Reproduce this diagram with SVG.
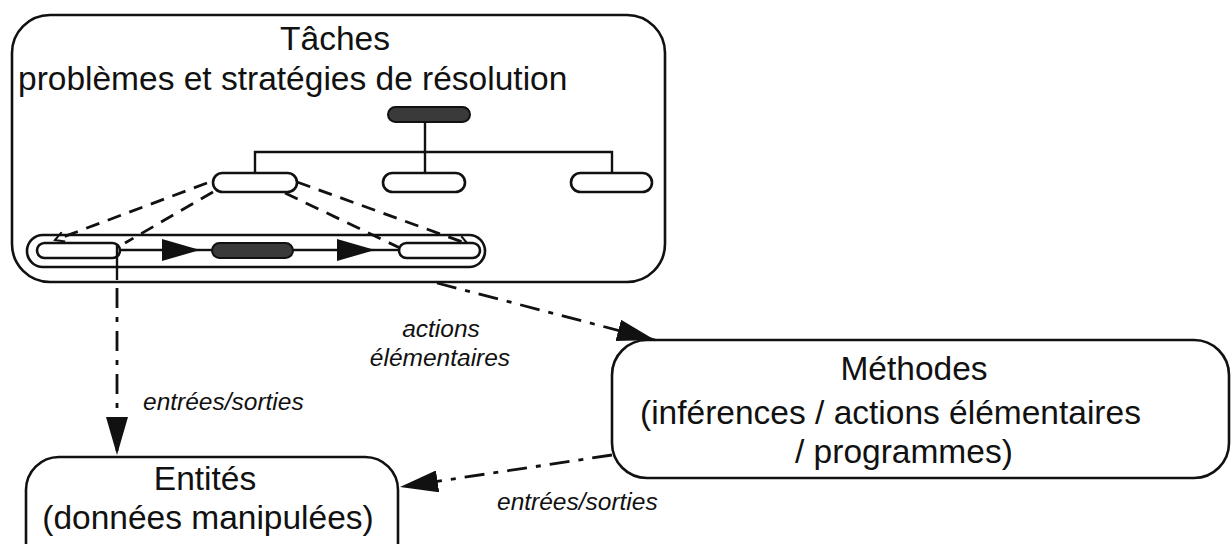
<svg xmlns="http://www.w3.org/2000/svg" width="1231" height="544" viewBox="0 0 1231 544">
<style>
.box{fill:#fff;stroke:#111;stroke-width:2.6}
.pill{fill:#fff;stroke:#111;stroke-width:2.6}
.dark{fill:#3a3a3a;stroke:#111;stroke-width:2}
.ln{fill:none;stroke:#111;stroke-width:2.4}
.dash{fill:none;stroke:#111;stroke-width:2.8;stroke-dasharray:14 9}
.dd{fill:none;stroke:#111;stroke-width:2.8;stroke-dasharray:20 9 5 9}
.t{font-family:"Liberation Sans",Arial,sans-serif;font-size:33.5px;fill:#111}
.i{font-family:"Liberation Sans",Arial,sans-serif;font-size:24.5px;font-style:italic;fill:#111}
</style>
<defs>
<marker id="big" markerWidth="40" markerHeight="22" refX="38" refY="11" orient="auto" markerUnits="userSpaceOnUse">
<path d="M0,0 L38,11 L0,22 Z" fill="#111"/>
</marker>
<marker id="small" markerWidth="12" markerHeight="12" refX="10" refY="6" orient="auto" markerUnits="userSpaceOnUse">
<path d="M1,1 L10,6 L1,11" fill="none" stroke="#111" stroke-width="2"/>
</marker>
</defs>

<g id="taches">
<rect class="box" x="12" y="15" width="653" height="267" rx="38" ry="38"/>
<text class="t" x="335" y="50" text-anchor="middle">Tâches</text>
<text class="t" x="18" y="90">problèmes et stratégies de résolution</text>
</g>

<g id="tree-lines">
<path class="ln" d="M425,122 V173 M255,173 V152 H612 V173"/>
</g>

<g id="decomposition">
<path class="dash" d="M207,183 L55,240" marker-end="url(#small)"/>
<path class="dash" d="M213,192 L125,243"/>
<path class="dash" d="M297,182 L468,244" marker-end="url(#small)"/>
<path class="dash" d="M285,193 L400,248"/>
</g>

<g id="task-root"><rect class="dark" x="388" y="107" width="82" height="15" rx="7.5"/></g>
<g id="task-a"><rect class="pill" x="213" y="173" width="84" height="19" rx="9.5"/></g>
<g id="task-b"><rect class="pill" x="383" y="173" width="82" height="19" rx="9.5"/></g>
<g id="task-c"><rect class="pill" x="571" y="173" width="81" height="19" rx="9.5"/></g>

<g id="sequence">
<rect fill="none" stroke="#111" stroke-width="2.6" x="27" y="235" width="458" height="32" rx="16"/>
</g>
<g id="seq-1"><rect class="pill" x="37" y="243" width="83" height="15" rx="7.5"/></g>
<g id="seq-2"><rect class="dark" x="212" y="243" width="81" height="15" rx="7.5"/></g>
<g id="seq-3"><rect class="pill" x="399" y="243" width="81" height="15" rx="7.5"/></g>

<g id="methodes">
<rect class="box" x="612" y="340" width="617" height="138" rx="35" ry="35"/>
<text class="t" x="914" y="380" text-anchor="middle">Méthodes</text>
<text class="t" x="640" y="424">(inférences / actions élémentaires</text>
<text class="t" x="795" y="463">/ programmes)</text>
</g>

<g id="entites">
<rect class="box" x="26" y="457" width="372" height="120" rx="33" ry="33"/>
<text class="t" x="205" y="490" text-anchor="middle">Entités</text>
<text class="t" x="208" y="529" text-anchor="middle">(données manipulées)</text>
</g>

<g id="connectors">
<path class="ln" d="M120,250 L200,250" marker-end="url(#big)"/>
<path class="ln" d="M200,250 H212"/>
<path class="ln" d="M293,250 L375,250" marker-end="url(#big)"/>
<path class="ln" d="M375,250 H399"/>
<path class="ln" d="M117,245 V280"/>
<path class="dd" d="M117,288 V455" marker-end="url(#big)"/>
<path class="dd" d="M437,283 L655,340" marker-end="url(#big)"/>
<path class="dd" d="M612,455 L400,487" marker-end="url(#big)"/>
</g>

<g id="labels">
<text class="i" x="441" y="337" text-anchor="middle">actions</text>
<text class="i" x="440" y="366" text-anchor="middle">élémentaires</text>
<text class="i" x="143" y="410">entrées/sorties</text>
<text class="i" x="497" y="510">entrées/sorties</text>
</g>
</svg>
